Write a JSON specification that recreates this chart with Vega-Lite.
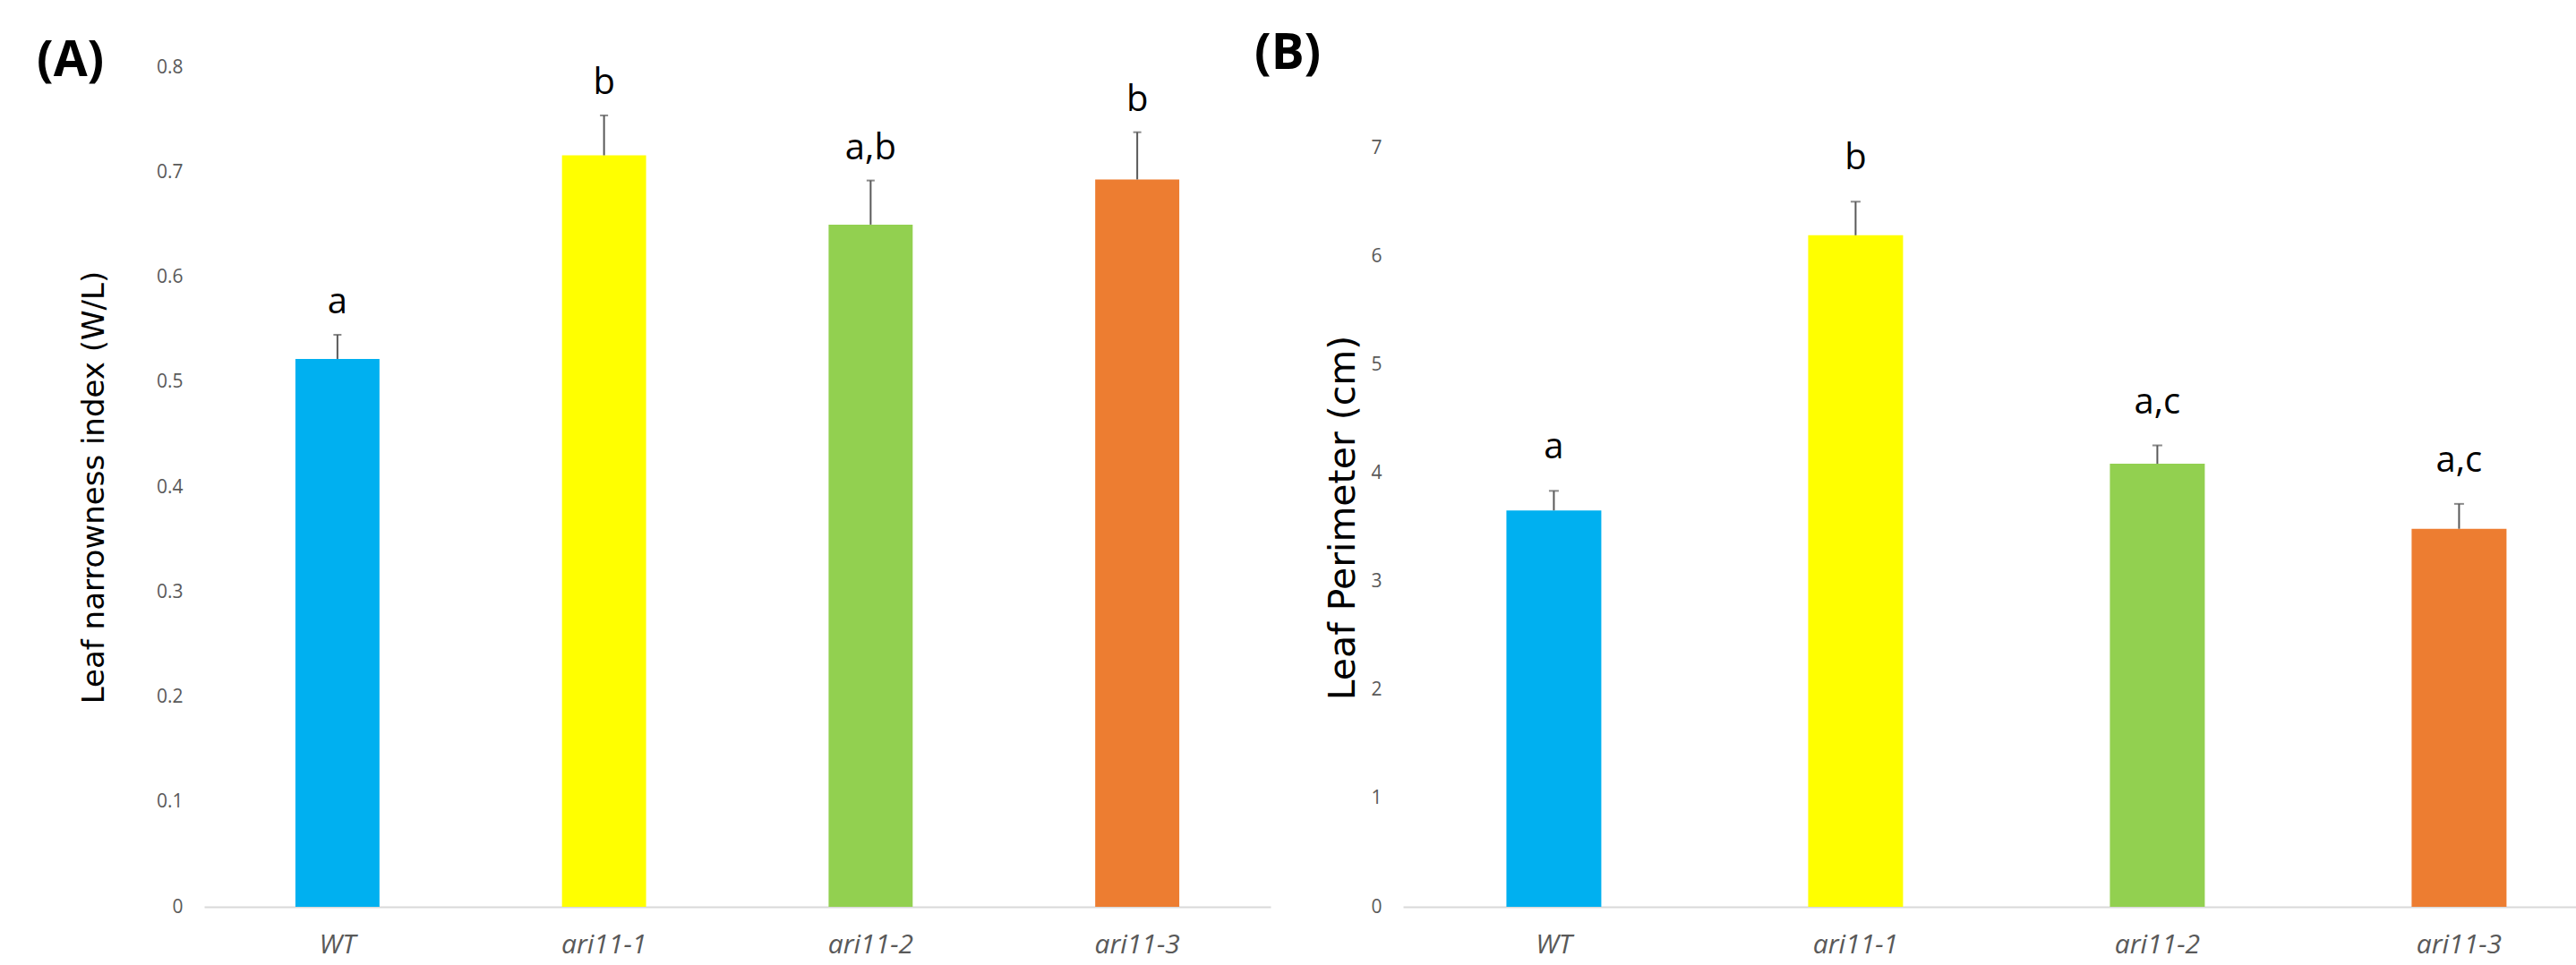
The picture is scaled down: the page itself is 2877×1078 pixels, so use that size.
{
  "$schema": "https://vega.github.io/schema/vega-lite/v6.json",
  "background": "white",
  "padding": {"left": 41, "top": 33, "right": 0, "bottom": 0},
  "bounds": "flush",
  "spacing": 148,
  "config": {
    "view": {"stroke": null},
    "axis": {"ticks": false, "grid": false, "labelFont": "Open Sans", "labelColor": "#595959", "titleFont": "DejaVu Sans", "titleFontWeight": "normal", "titleColor": "#000000"},
    "axisX": {"domain": true, "domainColor": "#D9D9D9", "domainWidth": 2, "labelFontSize": 30, "labelFontStyle": "italic", "labelAngle": 0, "labelBaseline": "alphabetic", "labelPadding": 51},
    "axisY": {"domain": false, "labelFontSize": 21, "labelPadding": 24},
    "title": {"font": "Open Sans", "fontSize": 55, "fontWeight": "bold", "color": "#000000", "anchor": "start", "frame": "group", "baseline": "alphabetic", "offset": 0}
  },
  "data": {"values": [
    {"panel": "A", "genotype": "WT", "mean": 0.522, "upper": 0.545, "letter": "a"},
    {"panel": "A", "genotype": "ari11-1", "mean": 0.716, "upper": 0.754, "letter": "b"},
    {"panel": "A", "genotype": "ari11-2", "mean": 0.650, "upper": 0.692, "letter": "a,b"},
    {"panel": "A", "genotype": "ari11-3", "mean": 0.693, "upper": 0.738, "letter": "b"},
    {"panel": "B", "genotype": "WT", "mean": 3.66, "upper": 3.84, "letter": "a"},
    {"panel": "B", "genotype": "ari11-1", "mean": 6.20, "upper": 6.51, "letter": "b"},
    {"panel": "B", "genotype": "ari11-2", "mean": 4.09, "upper": 4.26, "letter": "a,c"},
    {"panel": "B", "genotype": "ari11-3", "mean": 3.49, "upper": 3.72, "letter": "a,c"}
  ]},
  "hconcat": [
    {
      "width": 1191,
      "height": 938,
      "title": {"text": "(A)", "dx": -187, "dy": 37},
      "transform": [{"filter": "datum.panel === 'A'"}],
      "encoding": {
        "x": {"field": "genotype", "type": "nominal", "sort": ["WT", "ari11-1", "ari11-2", "ari11-3"], "scale": {"paddingInner": 0.6846, "paddingOuter": 0.3423}, "axis": {"title": null}}
      },
      "layer": [
        {
          "mark": {"type": "bar"},
          "encoding": {
            "y": {"field": "mean", "type": "quantitative", "scale": {"domain": [0, 0.8], "nice": false}, "axis": {"title": "Leaf narrowness index (W/L)", "titleFontSize": 34, "titlePadding": 52, "values": [0, 0.1, 0.2, 0.3, 0.4, 0.5, 0.6, 0.7, 0.8], "format": "~g"}},
            "color": {"field": "genotype", "type": "nominal", "scale": {"domain": ["WT", "ari11-1", "ari11-2", "ari11-3"], "range": ["#00B0F0", "#FFFF00", "#92D050", "#ED7D31"]}, "legend": null}
          }
        },
        {
          "mark": {"type": "rule", "color": "#595959", "strokeWidth": 2},
          "encoding": {"y": {"field": "mean", "type": "quantitative"}, "y2": {"field": "upper"}}
        },
        {
          "mark": {"type": "tick", "color": "#595959", "thickness": 2, "size": 9},
          "encoding": {"y": {"field": "upper", "type": "quantitative"}}
        },
        {
          "mark": {"type": "text", "font": "Open Sans", "fontSize": 40, "color": "#000000", "baseline": "alphabetic", "dy": -24},
          "encoding": {"y": {"field": "upper", "type": "quantitative"}, "text": {"field": "letter"}}
        }
      ]
    },
    {
      "width": 1310,
      "height": 938,
      "title": {"text": "(B)", "dx": -166, "dy": 18},
      "transform": [{"filter": "datum.panel === 'B'"}],
      "encoding": {
        "x": {"field": "genotype", "type": "nominal", "sort": ["WT", "ari11-1", "ari11-2", "ari11-3"], "scale": {"paddingInner": 0.6855, "paddingOuter": 0.2864, "align": 0.598}, "axis": {"title": null}}
      },
      "layer": [
        {
          "mark": {"type": "bar"},
          "encoding": {
            "y": {"field": "mean", "type": "quantitative", "scale": {"domain": [0, 7.752], "nice": false}, "axis": {"title": "Leaf Perimeter (cm)", "titleFontSize": 41, "titlePadding": 9, "titleY": 503, "values": [0, 1, 2, 3, 4, 5, 6, 7], "format": "~g"}},
            "color": {"field": "genotype", "type": "nominal", "scale": {"domain": ["WT", "ari11-1", "ari11-2", "ari11-3"], "range": ["#00B0F0", "#FFFF00", "#92D050", "#ED7D31"]}, "legend": null}
          }
        },
        {
          "mark": {"type": "rule", "color": "#595959", "strokeWidth": 2},
          "encoding": {"y": {"field": "mean", "type": "quantitative"}, "y2": {"field": "upper"}}
        },
        {
          "mark": {"type": "tick", "color": "#595959", "thickness": 2, "size": 11},
          "encoding": {"y": {"field": "upper", "type": "quantitative"}}
        },
        {
          "mark": {"type": "text", "font": "Open Sans", "fontSize": 40, "color": "#000000", "baseline": "alphabetic", "dy": -36},
          "encoding": {"y": {"field": "upper", "type": "quantitative"}, "text": {"field": "letter"}}
        }
      ]
    }
  ]
}
